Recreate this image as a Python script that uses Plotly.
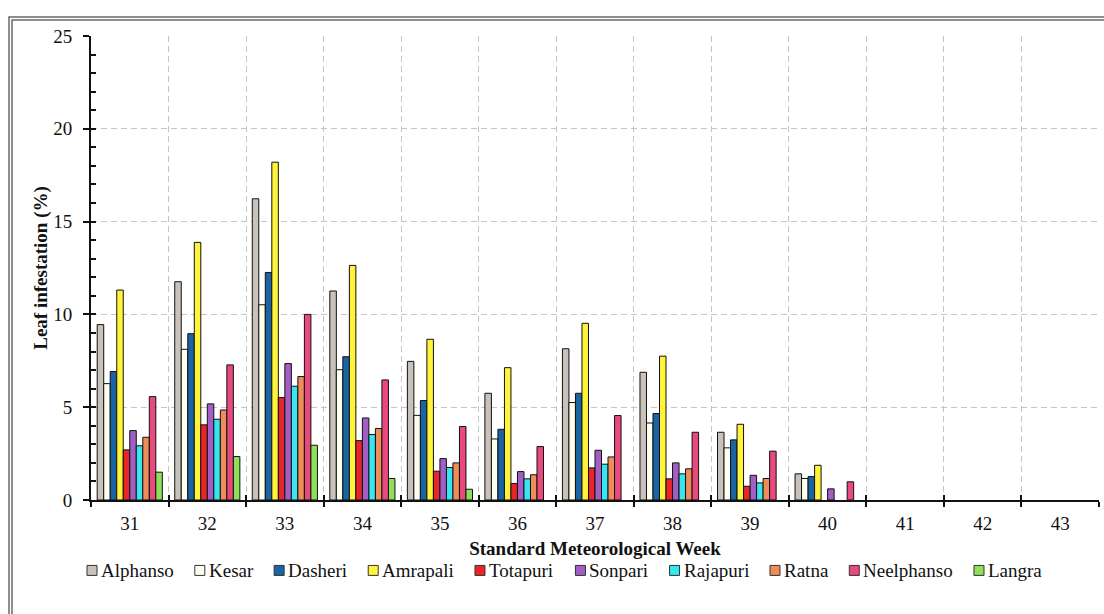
import plotly.graph_objects as go

weeks = ["31", "32", "33", "34", "35", "36", "37", "38", "39", "40", "41", "42", "43"]

alphanso   = [9.45, 11.76, 16.23, 11.26, 7.47, 5.75, 8.15, 6.88, 3.65, 1.41, 0, 0, 0]
kesar      = [6.27, 8.12, 10.52, 7.02, 4.56, 3.29, 5.25, 4.15, 2.81, 1.16, 0, 0, 0]
dasheri    = [6.92, 8.96, 12.26, 7.72, 5.36, 3.81, 5.75, 4.66, 3.24, 1.26, 0, 0, 0]
amrapali   = [11.31, 13.88, 18.20, 12.64, 8.66, 7.13, 9.52, 7.75, 4.08, 1.87, 0, 0, 0]
totapuri   = [2.70, 4.05, 5.52, 3.20, 1.55, 0.89, 1.73, 1.14, 0.74, 0, 0, 0, 0]
sonpari    = [3.74, 5.18, 7.35, 4.42, 2.23, 1.53, 2.68, 2.00, 1.33, 0.60, 0, 0, 0]
rajapuri   = [2.92, 4.35, 6.13, 3.53, 1.75, 1.14, 1.93, 1.41, 0.92, 0, 0, 0, 0]
ratna      = [3.38, 4.85, 6.65, 3.85, 2.00, 1.36, 2.32, 1.68, 1.16, 0, 0, 0, 0]
neelphanso = [5.57, 7.28, 10.00, 6.47, 3.96, 2.88, 4.55, 3.65, 2.63, 0.98, 0, 0, 0]
langra     = [1.50, 2.34, 2.95, 1.16, 0.58, 0, 0, 0, 0, 0, 0, 0, 0]

series_names = ["Alphanso", "Kesar", "Dasheri", "Amrapali", "Totapuri",
                "Sonpari", "Rajapuri", "Ratna", "Neelphanso", "Langra"]
series_values = [alphanso, kesar, dasheri, amrapali, totapuri,
                 sonpari, rajapuri, ratna, neelphanso, langra]
series_colors = ["#C9C2BA", "#FFFFF0", "#1A63A5", "#FFF43A", "#E8262A",
                 "#A25EC4", "#38E6F2", "#EE8C5A", "#E84A7E", "#8EE05A"]

FONT = "Liberation Serif"
FS = 19

fig = go.Figure()
for name, vals, col in zip(series_names, series_values, series_colors):
    fig.add_trace(go.Bar(
        x=weeks, y=vals, name=name, showlegend=False,
        marker=dict(color=col,
                    line=dict(color="#111111", width=[1 if v > 0 else 0 for v in vals])),
    ))

# invisible helper trace for overlay axes (inside tick marks)
fig.add_trace(go.Scatter(x=weeks, y=[None] * len(weeks), xaxis="x2", yaxis="y2",
                         showlegend=False, hoverinfo="skip", mode="markers"))

W, H = 1104, 614
ml, mr, mt, mb = 91, 5, 36, 113.5
pw = W - ml - mr
ph = H - mt - mb

def px(x):
    return (x - ml) / pw

def py(y):
    return (H - mb - y) / ph

# Times/Liberation Serif advance widths (em) for legend layout
CW = {"A": .722, "D": .722, "K": .722, "L": .611, "N": .722, "R": .667, "S": .556,
      "T": .611, "a": .444, "e": .444, "g": .5, "h": .5, "i": .278, "j": .278,
      "l": .278, "m": .778, "n": .5, "o": .5, "p": .5, "r": .333, "s": .389,
      "t": .278, "u": .5}

def text_w(s):
    return sum(CW.get(c, .5) for c in s) * FS

shapes = [
    dict(type="rect", xref="paper", yref="paper",
         x0=px(9), x1=px(1115), y0=py(625), y1=py(17),
         line=dict(color="#6a6a6a", width=1.5), fillcolor="rgba(0,0,0,0)", layer="below"),
    dict(type="rect", xref="paper", yref="paper",
         x0=px(12), x1=px(1112), y0=py(622), y1=py(20),
         line=dict(color="#6a6a6a", width=1.5), fillcolor="rgba(0,0,0,0)", layer="below"),
]
annotations = []

# legend (box + label), laid out left to right
leg_x, leg_y, box, box_gap, item_gap = 87, 571, 10, 4, 21
x = leg_x
for name, col in zip(series_names, series_colors):
    shapes.append(dict(type="rect", xref="paper", yref="paper",
                       x0=px(x), x1=px(x + box), y0=py(leg_y + box / 2), y1=py(leg_y - box / 2),
                       line=dict(color="#333333", width=1), fillcolor=col))
    annotations.append(dict(xref="paper", yref="paper", x=px(x + box + box_gap - 1),
                            y=py(leg_y), xanchor="left", yanchor="middle", showarrow=False,
                            borderpad=0,
                            text=name, font=dict(family=FONT, size=FS, color="#111111")))
    x += box + box_gap + text_w(name) + item_gap

fig.update_layout(
    width=W, height=H,
    margin=dict(l=ml, r=mr, t=mt, b=mb, pad=0, autoexpand=False),
    paper_bgcolor="white", plot_bgcolor="white",
    barmode="group", bargap=0.16, bargroupgap=0,
    font=dict(family=FONT, color="#111111", size=FS),
    showlegend=False,
    xaxis=dict(
        type="category", categoryorder="array", categoryarray=weeks,
        range=[-0.5, 12.5], tickson="boundaries", automargin=False,
        ticks="outside", ticklen=5, tickwidth=1.5, tickcolor="#111111",
        ticklabelstandoff=5,
        showline=True, linecolor="#111111", linewidth=2,
        showgrid=True, gridcolor="#C4C4C4", gridwidth=1, griddash="6px,4px",
        tickfont=dict(family=FONT, size=FS, color="#111111"),
        title=dict(text="<b>Standard Meteorological Week</b>", standoff=9,
                   font=dict(family=FONT, size=FS, color="#111111")),
        zeroline=False,
    ),
    yaxis=dict(
        range=[0, 25], dtick=5, tick0=0, automargin=False,
        ticks="outside", ticklen=6, tickwidth=1.5, tickcolor="#111111",
        ticklabelstandoff=7,
        showline=True, linecolor="#111111", linewidth=2,
        showgrid=True, gridcolor="#C4C4C4", gridwidth=1, griddash="6px,4px",
        tickfont=dict(family=FONT, size=FS, color="#111111"),
        title=dict(text="<b>Leaf infestation (%)</b>", standoff=1,
                   font=dict(family=FONT, size=FS, color="#111111")),
        zeroline=False,
    ),
    xaxis2=dict(
        type="category", categoryorder="array", categoryarray=weeks,
        range=[-0.5, 12.5], tickson="boundaries", overlaying="x", side="bottom",
        ticks="inside", ticklen=5, tickwidth=1.5, tickcolor="#111111", automargin=False,
        showticklabels=False, showgrid=False, showline=False, zeroline=False,
    ),
    yaxis2=dict(
        range=[0, 25], dtick=1, tick0=0, overlaying="y", side="left", automargin=False,
        ticks="inside", ticklen=5, tickwidth=1.5, tickcolor="#111111",
        showticklabels=False, showgrid=False, showline=False, zeroline=False,
    ),
    shapes=shapes,
    annotations=annotations,
)

fig.write_html("out.html", config={"displayModeBar": False},
               post_script="document.body.style.margin='0';")
